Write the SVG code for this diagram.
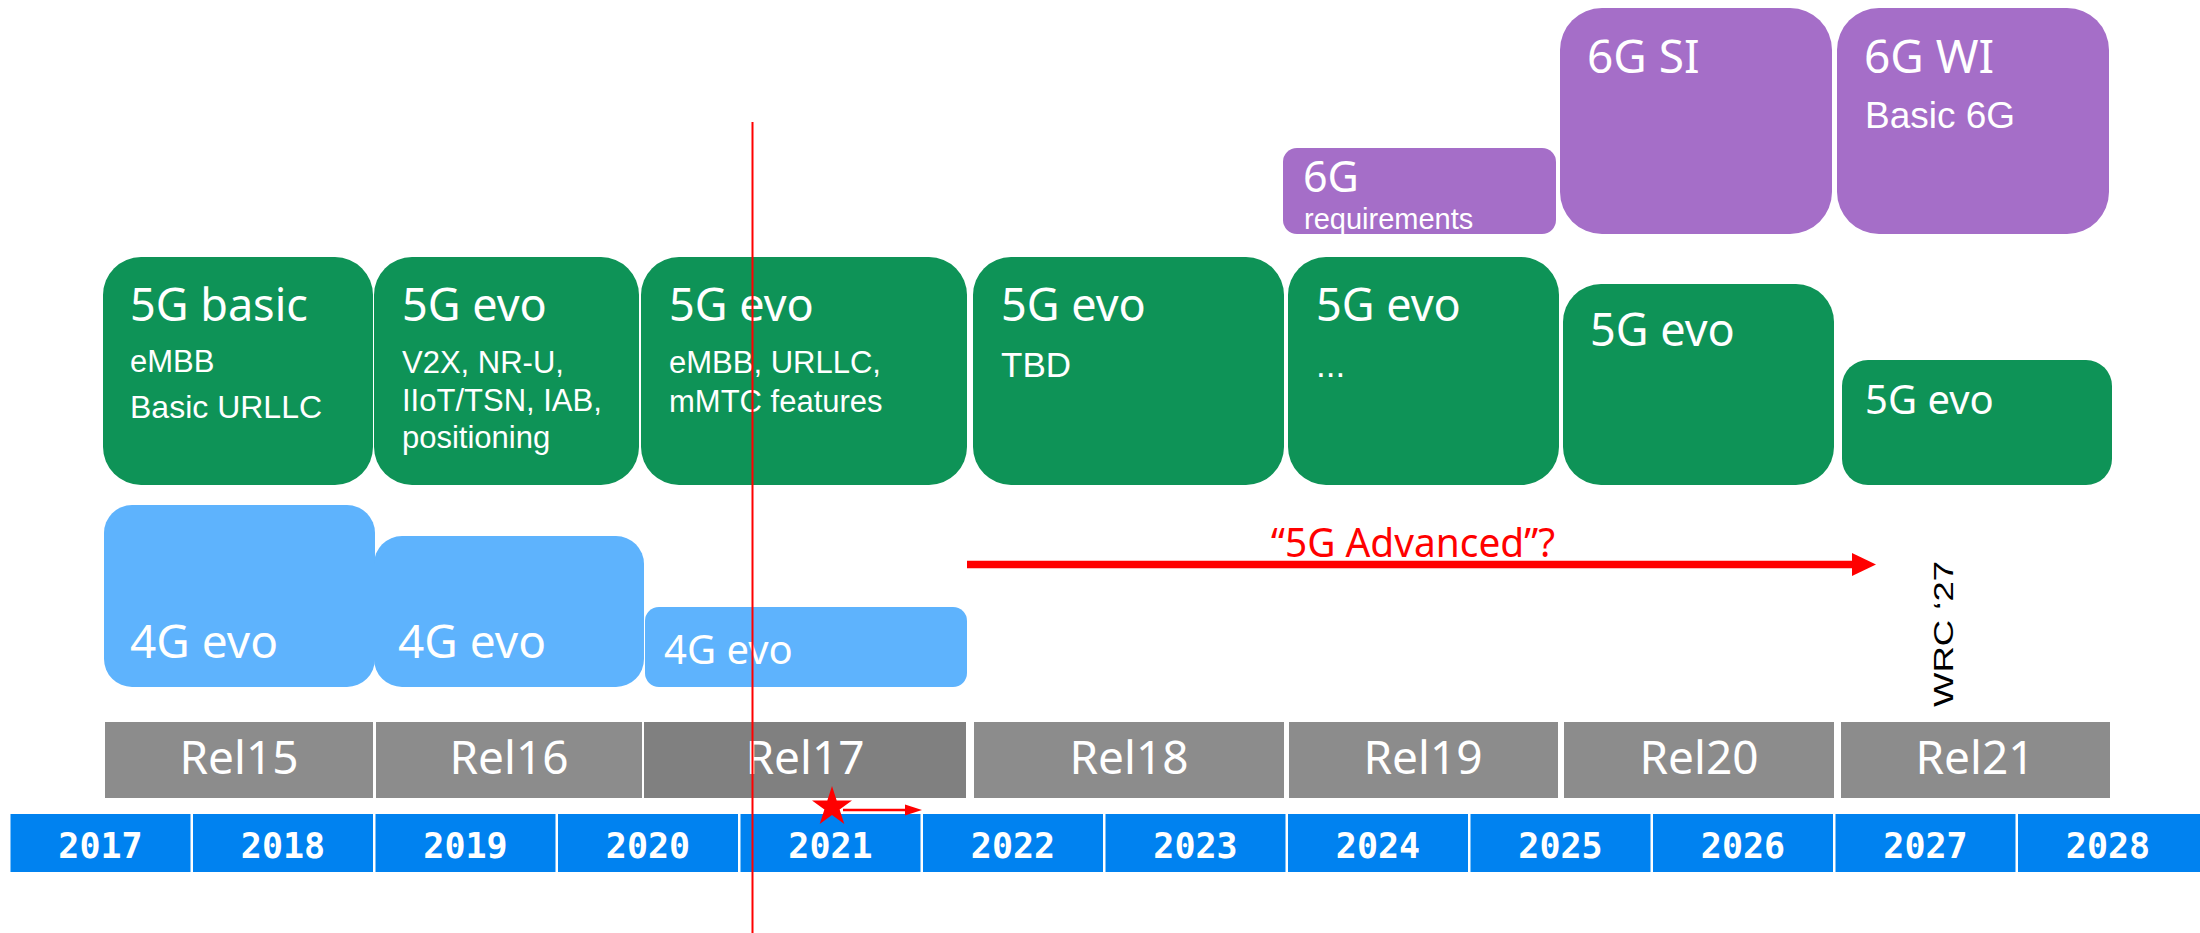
<svg xmlns="http://www.w3.org/2000/svg" width="2200" height="933" viewBox="0 0 2200 933">
<defs>
<style>
.g{fill:#0E9357}
.b{fill:#5EB3FD}
.p{fill:#A56EC8}
.rel{fill:#8C8C8C}
.yr{fill:#0082F0}
.h{font-family:"Noto Sans","DejaVu Sans",sans-serif;fill:#fff}
.s{font-family:"Liberation Sans",Arial,sans-serif;fill:#fff}
.rt{font-family:"Noto Sans","DejaVu Sans",sans-serif;fill:#fff;font-size:46px;text-anchor:middle}
.yt{font-family:"DejaVu Sans Mono",monospace;font-weight:bold;fill:#fff;font-size:35px;text-anchor:middle}
</style>
<marker id="bigHead" markerUnits="userSpaceOnUse" markerWidth="24" markerHeight="24" refX="0" refY="12" orient="auto" viewBox="0 0 24 24">
<polygon points="0,0.5 24,12 0,23.5" fill="#FF0000"/>
</marker>
<marker id="smallHead" markerUnits="userSpaceOnUse" markerWidth="17" markerHeight="12" refX="0" refY="6" orient="auto" viewBox="0 0 17 12">
<polygon points="0,0.5 17,6 0,11.5" fill="#FF0000"/>
</marker>
</defs>
<rect width="2200" height="933" fill="#fff"/>

<!-- 6G boxes -->
<g id="n6greq"><rect class="p" x="1283" y="148" width="273" height="86" rx="14"/><text class="h" x="1303" y="192" font-size="43">6G</text><text class="s" x="1304" y="229" font-size="29">requirements</text></g>
<g id="n6gsi"><rect class="p" x="1560" y="8" width="272" height="226" rx="42"/><text class="h" x="1587" y="73" font-size="46">6G SI</text></g>
<g id="n6gwi"><rect class="p" x="1837" y="8" width="272" height="226" rx="42"/><text class="h" x="1864" y="73" font-size="46">6G WI</text><text class="s" x="1865" y="128" font-size="37">Basic 6G</text></g>

<!-- 5G boxes -->
<g id="n5g15"><rect class="g" x="103" y="257" width="270" height="228" rx="38"/><text class="h" x="130" y="321" font-size="45">5G basic</text><text class="s" x="130" y="372" font-size="31">eMBB</text><text class="s" x="130" y="418" font-size="32">Basic URLLC</text></g>
<g id="n5g16"><rect class="g" x="374" y="257" width="265" height="228" rx="38"/><text class="h" x="402" y="321" font-size="45">5G evo</text><text class="s" x="402" y="373" font-size="31">V2X, NR-U,</text><text class="s" x="402" y="411" font-size="31">IIoT/TSN, IAB,</text><text class="s" x="402" y="448" font-size="31">positioning</text></g>
<g id="n5g17"><rect class="g" x="641" y="257" width="326" height="228" rx="38"/><text class="h" x="669" y="321" font-size="45">5G evo</text><text class="s" x="669" y="373" font-size="31">eMBB, URLLC,</text><text class="s" x="669" y="412" font-size="31">mMTC features</text></g>
<g id="n5g18"><rect class="g" x="973" y="257" width="311" height="228" rx="38"/><text class="h" x="1001" y="321" font-size="45">5G evo</text><text class="s" x="1001" y="377" font-size="35">TBD</text></g>
<g id="n5g19"><rect class="g" x="1288" y="257" width="271" height="228" rx="38"/><text class="h" x="1316" y="321" font-size="45">5G evo</text><text class="s" x="1316" y="377" font-size="35">...</text></g>
<g id="n5g20"><rect class="g" x="1563" y="284" width="271" height="201" rx="38"/><text class="h" x="1590" y="346" font-size="45">5G evo</text></g>
<g id="n5g21"><rect class="g" x="1842" y="360" width="270" height="125" rx="26"/><text class="h" x="1865" y="414" font-size="40">5G evo</text></g>

<!-- 4G boxes -->
<g id="n4g15"><rect class="b" x="104" y="505" width="271" height="182" rx="28"/><text class="h" x="130" y="658" font-size="46">4G evo</text></g>
<g id="n4g16"><rect class="b" x="374" y="536" width="270" height="151" rx="28"/><text class="h" x="398" y="658" font-size="46">4G evo</text></g>
<g id="n4g17"><rect class="b" x="645" y="607" width="322" height="80" rx="14"/><text class="h" x="664" y="664" font-size="40">4G evo</text></g>

<!-- Release bar -->
<g id="rel15"><rect class="rel" x="105" y="722" width="268" height="76"/><text class="rt" x="239" y="774">Rel15</text></g>
<g id="rel16"><rect class="rel" x="376" y="722" width="266" height="76"/><text class="rt" x="509" y="774">Rel16</text></g>
<g id="rel17"><rect x="644" y="722" width="322" height="76" fill="#808080"/><text class="rt" x="805" y="774">Rel17</text></g>
<g id="rel18"><rect class="rel" x="974" y="722" width="310" height="76"/><text class="rt" x="1129" y="774">Rel18</text></g>
<g id="rel19"><rect class="rel" x="1289" y="722" width="269" height="76"/><text class="rt" x="1423" y="774">Rel19</text></g>
<g id="rel20"><rect class="rel" x="1564" y="722" width="270" height="76"/><text class="rt" x="1699" y="774">Rel20</text></g>
<g id="rel21"><rect class="rel" x="1841" y="722" width="269" height="76"/><text class="rt" x="1975" y="774">Rel21</text></g>

<!-- Year bar -->
<g id="y2017"><rect class="yr" x="10.5" y="814" width="180" height="58"/><text class="yt" x="100.5" y="858">2017</text></g>
<g id="y2018"><rect class="yr" x="193" y="814" width="180" height="58"/><text class="yt" x="283" y="858">2018</text></g>
<g id="y2019"><rect class="yr" x="375.5" y="814" width="180" height="58"/><text class="yt" x="465.5" y="858">2019</text></g>
<g id="y2020"><rect class="yr" x="558" y="814" width="180" height="58"/><text class="yt" x="648" y="858">2020</text></g>
<g id="y2021"><rect class="yr" x="740.5" y="814" width="180" height="58"/><text class="yt" x="830.5" y="858">2021</text></g>
<g id="y2022"><rect class="yr" x="923" y="814" width="180" height="58"/><text class="yt" x="1013" y="858">2022</text></g>
<g id="y2023"><rect class="yr" x="1105.5" y="814" width="180" height="58"/><text class="yt" x="1195.5" y="858">2023</text></g>
<g id="y2024"><rect class="yr" x="1288" y="814" width="180" height="58"/><text class="yt" x="1378" y="858">2024</text></g>
<g id="y2025"><rect class="yr" x="1470.5" y="814" width="180" height="58"/><text class="yt" x="1560.5" y="858">2025</text></g>
<g id="y2026"><rect class="yr" x="1653" y="814" width="180" height="58"/><text class="yt" x="1743" y="858">2026</text></g>
<g id="y2027"><rect class="yr" x="1835.5" y="814" width="180" height="58"/><text class="yt" x="1925.5" y="858">2027</text></g>
<g id="y2028"><rect class="yr" x="2018" y="814" width="182" height="58"/><text class="yt" x="2108" y="858">2028</text></g>

<!-- labels -->
<g id="advanced"><text x="1271" y="557" font-family="Noto Sans, DejaVu Sans, sans-serif" font-size="40" fill="#FF0000" textLength="284" lengthAdjust="spacingAndGlyphs">“5G Advanced”?</text></g>
<g id="wrc"><text transform="translate(1952.5,707) rotate(-90)" x="0" y="0" font-family="Liberation Sans, Arial, sans-serif" font-size="28" fill="#000" textLength="146" lengthAdjust="spacingAndGlyphs">WRC ‘27</text></g>

<!-- connectors -->
<g id="connectors">
<line x1="752.5" y1="122" x2="752.5" y2="933" stroke="#FF0000" stroke-width="2"/>
<line x1="967" y1="564.5" x2="1852" y2="564.5" stroke="#FF0000" stroke-width="7.5" marker-end="url(#bigHead)"/>
<line x1="843" y1="810" x2="905" y2="810" stroke="#FF0000" stroke-width="2.5" marker-end="url(#smallHead)"/>
<polygon id="star" fill="#FF0000" points="832,786 836.7,800.5 852,800.5 839.6,809.5 844.3,824 832,815 819.7,824 824.4,809.5 812,800.5 827.3,800.5"/>
</g>
</svg>
